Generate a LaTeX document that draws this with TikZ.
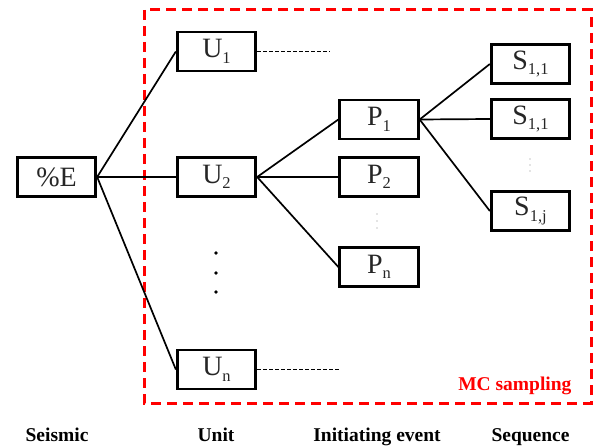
\documentclass[tikz,border=0pt]{standalone}
\usepackage{fontspec}
\setmainfont{Liberation Serif}
\newcommand\sbx[1]{\raisebox{-5.5pt}{\fontsize{16.5}{17}\selectfont #1}}
\begin{document}
\begin{tikzpicture}[x=1pt,y=-1pt,
  box/.style={draw=black,line width=2.8pt,minimum width=78.5pt,minimum height=39pt,
    inner sep=0pt,font=\fontsize{28}{30}\selectfont,text=black!85},
  link/.style={line width=1.7pt},
  tail/.style={line width=1.7pt,dash pattern=on 4pt off 2pt},
  stage/.style={font=\fontsize{19.5}{22}\selectfont\bfseries,anchor=base},
  bigdot/.style={circle,fill=black,inner sep=0pt,minimum size=3.8pt},
  smalldot/.style={circle,fill=black!45,inner sep=0pt,minimum size=1.4pt}]
\useasboundingbox (0,0) rectangle (593,446);

% Monte Carlo sampling region
\draw[red,line width=3pt,dash pattern=on 10pt off 6pt] (144,10) rectangle (591,403);
\node[red,font=\fontsize{19.5}{22}\selectfont\bfseries,anchor=base east] (mc) at (575,390) {MC sampling};

% boxes
\node[box] (E) at (56.5,177) {\%E};
\node[box] (U1) at (216.5,51.5) {U\sbx{1}};
\node[box] (U2) at (216.5,177) {U\sbx{2}};
\node[box] (Un) at (216.5,369.5) {U\sbx{n}};
\node[box] (P1) at (379,119.5) {P\sbx{1}};
\node[box] (P2) at (379,177) {P\sbx{2}};
\node[box] (Pn) at (379,267) {P\sbx{n}};
\node[box] (S1) at (530.5,64) {S\sbx{1,1}};
\node[box] (S2) at (530.5,119) {S\sbx{1,1}};
\node[box] (Sj) at (530.5,211) {S\sbx{1,j}};

% connectors
\draw[link] (E.east) -- (U1.west);
\draw[link] (E.east) -- (U2.west);
\draw[link] (E.east) -- (Un.west);
\draw[link] (U2.east) -- (P1.west);
\draw[link] (U2.east) -- (P2.west);
\draw[link] (U2.east) -- (Pn.west);
\draw[link] (P1.east) -- (S1.west);
\draw[link] (P1.east) -- (S2.west);
\draw[link] (P1.east) -- (Sj.west);

% open branches
\coordinate (u1end) at (330,51.5);
\coordinate (unend) at (339,369.5);
\draw[tail] (U1.east) -- (u1end);
\draw[tail] (Un.east) -- (unend);

% ellipses
\foreach \y/\k in {253/1,273/2,292/3} \node[bigdot] (ud\k) at (216,\y) {};
\foreach \y/\k in {214/1,221/2,228/3} \node[smalldot] (pd\k) at (377,\y) {};
\foreach \y/\k in {159/1,165/2,171/3} \node[smalldot] (sd\k) at (530,\y) {};

% stage labels
\node[stage] (l1) at (57,441) {Seismic};
\node[stage] (l2) at (216,441) {Unit};
\node[stage] (l3) at (377,441) {Initiating event};
\node[stage] (l4) at (530.5,441) {Sequence};
\end{tikzpicture}
\end{document}
